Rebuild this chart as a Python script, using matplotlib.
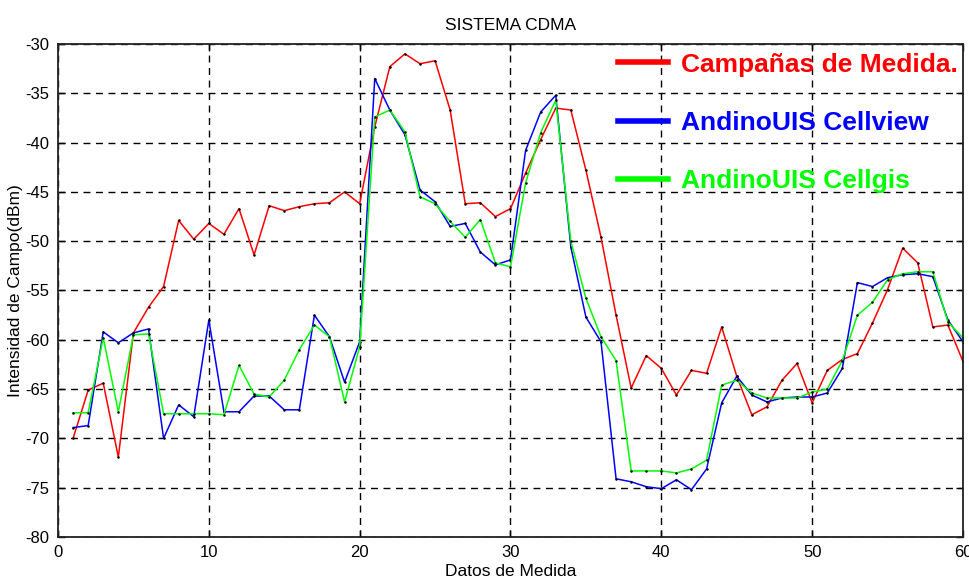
import matplotlib.pyplot as plt
from matplotlib.ticker import MultipleLocator

# Field strength per measurement point (dBm), points 1..60
DATOS = list(range(1, 61))

CAMPANAS = [
    -70.0, -65.1, -64.4, -71.9, -59.3, -56.7, -54.6, -47.9, -49.8, -48.2,
    -49.3, -46.7, -51.4, -46.4, -46.9, -46.5, -46.2, -46.1, -45.0, -46.2,
    -38.4, -32.3, -31.0, -32.0, -31.7, -36.7, -46.2, -46.1, -47.5, -46.7,
    -43.1, -39.7, -36.5, -36.7, -42.8, -49.6, -57.5, -64.9, -61.6, -62.9,
    -65.6, -63.1, -63.4, -58.7, -63.7, -67.6, -66.8, -64.1, -62.4, -66.4,
    -63.1, -62.0, -61.4, -58.3, -54.9, -50.7, -52.2, -58.7, -58.5, -62.2,
]

CELLVIEW = [
    -68.9, -68.7, -59.2, -60.3, -59.3, -58.9, -70.0, -66.6, -67.8, -58.0,
    -67.3, -67.3, -65.7, -65.7, -67.1, -67.1, -57.5, -59.7, -64.3, -60.2,
    -33.5, -36.7, -39.2, -44.8, -46.0, -48.5, -48.2, -51.1, -52.4, -51.9,
    -40.8, -36.9, -35.2, -50.6, -57.7, -60.2, -74.1, -74.4, -74.9, -75.1,
    -74.2, -75.2, -73.1, -66.4, -63.7, -65.6, -66.3, -65.9, -65.8, -65.8,
    -65.4, -62.9, -54.2, -54.6, -53.7, -53.4, -53.3, -53.6, -58.0, -60.2,
]

CELLGIS = [
    -67.4, -67.4, -59.8, -67.3, -59.5, -59.4, -67.5, -67.5, -67.5, -67.5,
    -67.6, -62.6, -65.5, -65.8, -64.1, -61.0, -58.5, -59.7, -66.3, -60.7,
    -37.4, -36.7, -38.9, -45.5, -46.2, -48.0, -49.6, -47.8, -52.2, -52.6,
    -44.1, -39.0, -35.7, -50.0, -55.8, -59.7, -62.1, -73.3, -73.3, -73.3,
    -73.5, -73.1, -72.2, -64.6, -64.1, -65.4, -65.9, -65.9, -65.9, -65.3,
    -65.0, -62.1, -57.5, -56.2, -53.9, -53.3, -53.1, -53.1, -58.2, -59.8,
]

SERIES = [
    ("Campañas de Medida.", CAMPANAS, "#ff0000"),
    ("AndinoUIS Cellview", CELLVIEW, "#0000ff"),
    ("AndinoUIS Cellgis", CELLGIS, "#00ff00"),
]

plt.rcParams["font.family"] = ["Liberation Sans", "DejaVu Sans"]
plt.rcParams["axes.unicode_minus"] = False

fig = plt.figure(figsize=(9.69, 5.78), dpi=100)
ax = fig.add_axes([58 / 969, 41 / 578, 905 / 969, 493 / 578])

lines = []
for label, values, color in SERIES:
    (ln,) = ax.plot(DATOS, values, color=color, linewidth=1.1, label=label,
                    marker=".", markersize=1.6, markerfacecolor="k",
                    markeredgecolor="k")
    lines.append(ln)

ax.set_xlim(0, 60)
ax.set_ylim(-80, -30)
ax.xaxis.set_major_locator(MultipleLocator(10))
ax.yaxis.set_major_locator(MultipleLocator(5))
ax.grid(True, color="black", linestyle=(0, (5, 4)), linewidth=1.0)
ax.set_axisbelow(True)

for spine in ax.spines.values():
    spine.set_linewidth(1.3)
    spine.set_color("#222222")
ax.tick_params(direction="in", length=5, width=1.0, top=True, right=True,
               labelsize=12, pad=6)

ax.set_title("SISTEMA CDMA", fontsize=12.5, pad=10)
ax.set_xlabel("Datos de Medida", fontsize=12.5, labelpad=3)
ax.set_ylabel("Intensidad de Campo(dBm)", fontsize=12.5, labelpad=2)

# legend without frame, big bold coloured labels and thick handles
leg = ax.legend(handles=lines, loc="upper right", frameon=False,
                prop={"weight": "bold", "size": 19}, handlelength=1.9,
                handletextpad=0.5, labelspacing=1.3, borderpad=0.2,
                bbox_to_anchor=(1.0, 0.993), borderaxespad=0.0)
for ln, txt in zip(leg.get_lines(), leg.get_texts()):
    ln.set_linewidth(4)
    ln.set_marker("")
    txt.set_color(ln.get_color())

fig.savefig("out.png", dpi=100)
